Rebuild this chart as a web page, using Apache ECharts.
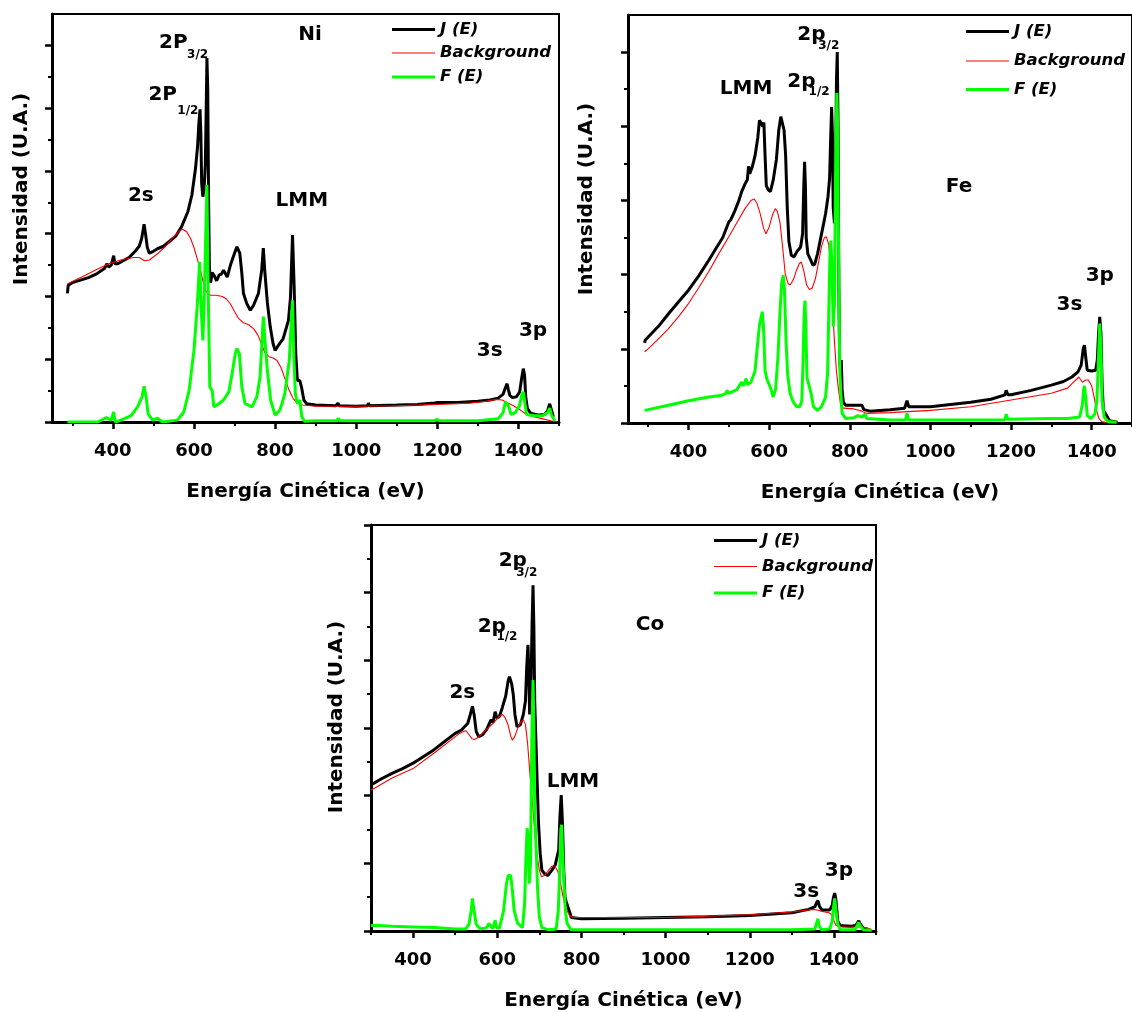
<!DOCTYPE html>
<html>
<head>
<meta charset="utf-8">
<script src="https://cdn.jsdelivr.net/npm/echarts@6/dist/echarts.min.js"></script>
<style>html,body{margin:0;padding:0;background:#fff}#c{width:1132px;height:1012px}</style>
</head>
<body>
<div id="c"></div>
<script>
// ---------------- DATA ----------------
const seriesNames = ['J (E)', 'Background', 'F (E)'];
const xMajor = [400, 600, 800, 1000, 1200, 1400];
const xMinor = [300, 500, 700, 900, 1100, 1300, 1500];

// Ni panel
const niJ = [[288,2.05],[290,2.18],[300,2.22],[320,2.26],[340,2.30],[360,2.36],[380,2.45],[385,2.52],[390,2.47],[396,2.50],[402,2.65],[405,2.52],[412,2.52],[420,2.55],[440,2.62],[455,2.72],[465,2.80],[471,2.92],[477,3.15],[481,2.98],[485,2.78],[490,2.69],[500,2.72],[510,2.76],[525,2.80],[540,2.88],[555,2.96],[570,3.12],[585,3.35],[595,3.62],[600,3.86],[604,4.05],[609,4.40],[612,4.75],[615,4.98],[617,4.60],[619,3.80],[622,3.59],[625,3.72],[628,4.10],[630,4.90],[632,5.80],[634,5.30],[636,3.60],[638,2.47],[641,2.22],[645,2.38],[650,2.33],[656,2.25],[662,2.34],[668,2.36],[673,2.42],[682,2.31],[690,2.50],[700,2.69],[706,2.79],[713,2.69],[718,2.37],[722,2.05],[730,1.89],[739,1.78],[747,1.86],[759,2.05],[767,2.42],[771,2.77],[775,2.37],[781,1.90],[788,1.52],[795,1.25],[800,1.14],[808,1.22],[820,1.33],[833,1.62],[838,1.99],[843,2.98],[847,2.16],[851,1.09],[855,0.66],[861,0.66],[865,0.56],[871,0.35],[878,0.29],[900,0.27],[950,0.26],[955,0.30],[958,0.26],[1000,0.25],[1028,0.26],[1030,0.30],[1033,0.26],[1100,0.27],[1150,0.28],[1185,0.30],[1188,0.33],[1192,0.30],[1200,0.31],[1250,0.31],[1300,0.33],[1330,0.35],[1350,0.38],[1362,0.44],[1368,0.55],[1372,0.61],[1375,0.52],[1379,0.42],[1385,0.39],[1395,0.40],[1403,0.48],[1408,0.70],[1412,0.85],[1415,0.75],[1418,0.40],[1422,0.22],[1430,0.14],[1450,0.11],[1465,0.12],[1472,0.18],[1477,0.29],[1481,0.20],[1486,0.08]];
const niBg = [[288,2.20],[300,2.24],[330,2.33],[360,2.43],[390,2.52],[420,2.58],[450,2.62],[465,2.62],[478,2.57],[490,2.58],[510,2.68],[530,2.80],[550,2.95],[565,3.05],[572,3.07],[582,3.03],[592,2.92],[600,2.78],[608,2.60],[615,2.45],[622,2.25],[630,2.08],[640,2.02],[655,2.02],[670,2.00],[680,1.96],[690,1.88],[700,1.76],[710,1.65],[722,1.58],[735,1.55],[748,1.48],[758,1.38],[766,1.25],[775,1.10],[785,1.04],[795,1.02],[805,0.98],[815,0.86],[825,0.68],[835,0.50],[845,0.37],[855,0.30],[868,0.27],[900,0.25],[1000,0.25],[1100,0.26],[1200,0.28],[1280,0.30],[1320,0.33],[1345,0.36],[1360,0.35],[1375,0.30],[1390,0.25],[1405,0.19],[1420,0.12],[1440,0.08],[1460,0.05],[1480,0.02],[1497,0.00]];
const niF = [[288,0.00],[363,0.00],[384,0.07],[389,0.05],[396,0.03],[402,0.16],[406,0.00],[420,0.03],[445,0.10],[461,0.24],[472,0.40],[477,0.57],[482,0.40],[487,0.13],[498,0.03],[510,0.06],[522,0.00],[559,0.03],[575,0.16],[588,0.50],[600,1.14],[608,1.84],[614,2.55],[618,1.78],[622,1.30],[625,1.90],[628,2.69],[632,3.78],[635,2.15],[639,0.56],[645,0.50],[649,0.24],[661,0.29],[673,0.35],[686,0.48],[694,0.77],[702,1.09],[706,1.17],[712,1.09],[718,0.56],[726,0.29],[735,0.27],[743,0.24],[755,0.40],[763,0.72],[771,1.68],[775,1.30],[781,0.82],[789,0.35],[800,0.11],[812,0.19],[824,0.45],[835,0.98],[840,1.62],[843,1.94],[846,1.09],[850,0.45],[855,0.29],[861,0.35],[866,0.08],[873,0.01],[900,0.02],[953,0.02],[956,0.06],[960,0.02],[1028,0.02],[1031,0.05],[1035,0.02],[1100,0.02],[1185,0.02],[1188,0.05],[1192,0.02],[1200,0.04],[1205,0.02],[1300,0.02],[1350,0.05],[1362,0.15],[1368,0.32],[1372,0.35],[1376,0.25],[1382,0.12],[1392,0.15],[1402,0.25],[1408,0.42],[1412,0.48],[1416,0.30],[1420,0.12],[1440,0.10],[1460,0.10],[1472,0.15],[1477,0.22],[1482,0.10],[1490,0.02]];
const niNotes = [['2P',549,6.04],['2P',523,5.21],['2s',469,3.61],['LMM',866,3.53],['Ni',886,6.17],['3s',1329,1.14],['3p',1436,1.46]];
const niSubs = [['3/2',609,5.85],['1/2',585,4.96]];

// Fe panel
const feJ = [[291,1.08],[293,1.12],[300,1.16],[325,1.30],[350,1.47],[375,1.63],[400,1.79],[425,1.98],[450,2.19],[470,2.37],[485,2.50],[500,2.71],[505,2.74],[515,2.86],[525,3.00],[532,3.12],[540,3.22],[546,3.28],[549,3.46],[552,3.36],[558,3.45],[565,3.60],[572,3.85],[576,4.08],[580,4.10],[584,4.00],[587,4.05],[590,3.60],[593,3.20],[598,3.14],[603,3.12],[610,3.27],[618,3.55],[624,3.95],[629,4.13],[633,4.15],[637,3.95],[641,3.60],[645,2.90],[649,2.45],[655,2.26],[662,2.24],[670,2.32],[678,2.37],[683,2.55],[686,3.20],[688,3.52],[690,3.20],[692,2.50],[696,2.28],[700,2.30],[703,2.20],[708,2.13],[713,2.14],[720,2.28],[730,2.55],[740,2.82],[746,3.05],[750,3.30],[753,3.90],[755,4.26],[757,3.90],[759,2.90],[762,2.69],[765,3.50],[767,4.60],[769,5.00],[771,4.00],[773,1.80],[775,0.80],[777,0.75],[779,0.85],[781,0.45],[784,0.28],[790,0.24],[810,0.24],[830,0.24],[835,0.18],[850,0.16],[900,0.18],[936,0.20],[942,0.30],[946,0.22],[1000,0.22],[1050,0.25],[1100,0.28],[1150,0.32],[1185,0.38],[1188,0.44],[1192,0.38],[1200,0.38],[1250,0.44],[1300,0.51],[1330,0.56],[1351,0.62],[1366,0.69],[1374,0.78],[1379,1.00],[1382,1.05],[1385,0.90],[1389,0.71],[1400,0.70],[1410,0.71],[1414,0.85],[1417,1.20],[1420,1.43],[1423,1.20],[1426,0.50],[1429,0.17],[1434,0.13],[1444,0.03],[1464,0.01]];
const feBg = [[291,0.96],[300,1.00],[325,1.13],[350,1.27],[375,1.43],[400,1.61],[425,1.82],[450,2.04],[475,2.28],[500,2.51],[520,2.70],[540,2.89],[555,3.00],[563,3.02],[570,2.96],[578,2.82],[586,2.63],[592,2.55],[600,2.64],[608,2.80],[615,2.89],[620,2.86],[627,2.70],[633,2.40],[640,2.01],[647,1.88],[652,1.86],[660,1.93],[668,2.06],[675,2.15],[680,2.17],[686,2.05],[693,1.86],[700,1.80],[707,1.82],[715,1.95],[722,2.15],[730,2.38],[737,2.50],[742,2.51],[748,2.40],[753,2.10],[758,1.50],[762,1.10],[767,0.70],[772,0.45],[778,0.22],[785,0.20],[810,0.19],[830,0.16],[840,0.13],[900,0.14],[1000,0.17],[1100,0.22],[1200,0.31],[1300,0.40],[1340,0.47],[1355,0.55],[1368,0.62],[1377,0.55],[1385,0.58],[1392,0.58],[1400,0.50],[1406,0.35],[1412,0.17],[1418,0.06],[1425,0.02],[1440,0.00],[1460,0.00]];
const feF = [[291,0.17],[300,0.18],[350,0.24],[400,0.30],[450,0.35],[480,0.37],[493,0.40],[496,0.44],[500,0.40],[520,0.45],[528,0.52],[532,0.55],[536,0.50],[540,0.55],[543,0.60],[546,0.52],[555,0.55],[565,0.70],[572,1.10],[576,1.32],[579,1.30],[583,1.50],[586,1.30],[590,0.70],[595,0.58],[600,0.52],[605,0.45],[610,0.35],[616,0.45],[622,0.90],[627,1.50],[631,1.88],[635,1.99],[638,1.80],[642,1.10],[646,0.65],[652,0.40],[660,0.28],[668,0.22],[676,0.22],[681,0.30],[684,0.80],[687,1.50],[689,1.65],[691,1.30],[694,0.60],[697,0.55],[700,0.53],[704,0.40],[710,0.22],[720,0.17],[730,0.22],[740,0.35],[745,0.67],[748,1.50],[751,2.30],[753,2.46],[756,2.10],[759,1.30],[762,1.60],[765,3.50],[768,4.45],[770,4.00],[772,2.50],[775,0.76],[778,0.40],[781,0.13],[790,0.06],[810,0.07],[820,0.10],[830,0.08],[838,0.12],[842,0.06],[900,0.04],[938,0.04],[942,0.13],[946,0.04],[1100,0.04],[1185,0.04],[1188,0.12],[1192,0.05],[1300,0.06],[1340,0.06],[1370,0.08],[1377,0.25],[1380,0.45],[1382,0.50],[1385,0.35],[1389,0.10],[1398,0.06],[1408,0.12],[1413,0.30],[1417,0.90],[1420,1.34],[1423,1.00],[1426,0.30],[1431,0.08],[1440,0.02],[1462,0.01]];
const feNotes = [['LMM',543,4.51],['2p',680,4.60],['2p',705,5.23],['Fe',1071,3.18],['3s',1345,1.59],['3p',1420,1.99]];
const feSubs = [['1/2',724,4.46],['3/2',748,5.08]];

// Co panel
const coJ = [[300,2.16],[325,2.25],[350,2.33],[375,2.40],[400,2.48],[425,2.58],[450,2.68],[475,2.80],[500,2.92],[515,2.97],[530,3.07],[536,3.20],[541,3.32],[545,3.20],[550,2.95],[556,2.87],[565,2.90],[575,2.98],[585,3.12],[590,3.08],[595,3.24],[599,3.15],[605,3.17],[612,3.30],[620,3.47],[626,3.70],[629,3.76],[634,3.66],[638,3.50],[642,3.20],[647,3.02],[655,3.05],[662,3.20],[667,3.40],[670,3.90],[673,4.23],[675,3.80],[677,3.20],[680,3.60],[683,4.60],[685,5.11],[687,4.50],[689,3.40],[692,2.80],[695,2.18],[698,1.60],[702,1.15],[706,0.90],[712,0.85],[720,0.82],[730,0.90],[738,0.98],[742,1.00],[746,1.20],[749,1.70],[752,2.01],[755,1.60],[758,0.90],[761,0.50],[764,0.43],[768,0.42],[771,0.30],[776,0.20],[800,0.18],[900,0.19],[1000,0.20],[1100,0.21],[1200,0.23],[1300,0.27],[1340,0.32],[1355,0.36],[1359,0.42],[1362,0.45],[1366,0.36],[1372,0.31],[1390,0.31],[1396,0.38],[1399,0.50],[1402,0.56],[1405,0.45],[1409,0.15],[1415,0.08],[1440,0.07],[1452,0.08],[1456,0.12],[1459,0.15],[1463,0.10],[1470,0.04],[1485,0.02]];
const coBg = [[300,2.08],[350,2.26],[400,2.40],[450,2.63],[490,2.82],[510,2.92],[520,2.95],[526,2.96],[533,2.90],[540,2.84],[546,2.83],[555,2.86],[570,2.95],[590,3.07],[605,3.17],[612,3.20],[618,3.16],[625,3.06],[632,2.88],[636,2.82],[642,2.88],[650,3.02],[657,3.10],[662,3.12],[667,3.05],[672,2.78],[678,2.30],[685,1.79],[690,1.40],[695,1.10],[700,0.90],[705,0.80],[712,0.82],[720,0.88],[730,0.96],[737,0.96],[744,0.88],[750,0.72],[755,0.55],[760,0.40],[765,0.31],[772,0.23],[780,0.20],[900,0.20],[1000,0.20],[1100,0.22],[1200,0.24],[1300,0.28],[1350,0.32],[1360,0.31],[1372,0.29],[1388,0.27],[1395,0.24],[1400,0.15],[1405,0.08],[1420,0.06],[1470,0.06],[1490,0.02]];
const coF = [[300,0.08],[320,0.08],[350,0.07],[400,0.06],[450,0.05],[500,0.03],[525,0.03],[533,0.10],[538,0.30],[541,0.48],[545,0.30],[550,0.10],[560,0.03],[575,0.05],[580,0.11],[584,0.12],[589,0.04],[592,0.08],[595,0.16],[598,0.05],[605,0.04],[615,0.30],[622,0.70],[626,0.82],[632,0.82],[636,0.60],[640,0.31],[648,0.12],[660,0.05],[665,0.40],[668,1.05],[671,1.52],[673,1.40],[676,0.70],[679,1.00],[682,2.80],[685,3.71],[687,3.00],[689,1.80],[692,1.29],[696,0.60],[700,0.21],[706,0.05],[720,0.02],[740,0.03],[745,0.30],[748,0.80],[751,1.50],[753,1.57],[755,1.20],[758,0.80],[762,0.30],[766,0.11],[775,0.02],[1300,0.02],[1355,0.03],[1359,0.12],[1362,0.18],[1365,0.08],[1370,0.02],[1390,0.03],[1396,0.15],[1399,0.35],[1402,0.48],[1405,0.30],[1409,0.10],[1415,0.02],[1450,0.02],[1455,0.08],[1459,0.13],[1463,0.07],[1470,0.02],[1490,0.01]];
const coNotes = [['2s',517,3.52],['2p',587,4.50],['2p',637,5.47],['Co',963,4.53],['LMM',780,2.21],['3s',1334,0.58],['3p',1412,0.89]];
const coSubs = [['1/2',623,4.34],['3/2',670,5.29]];

// ---------------- CHART ----------------
const FONT = '"DejaVu Sans", sans-serif';
const seriesColors = ['#000000', '#ff0000', '#00ff00'];
const seriesWidths = [3, 1.1, 3];
const panels = [
  {J: niJ, B: niBg, F: niF, notes: niNotes, subs: niSubs, xmin: 250, xmax: 1500, ymax: 6.5,
   grid: {left: 52, top: 14, width: 507, height: 408},
   legend: {x: 392, rows: [29.5, 53, 77]}, yname: [22, 189]},
  {J: feJ, B: feBg, F: feF, notes: feNotes, subs: feSubs, xmin: 250, xmax: 1500, ymax: 5.5,
   grid: {left: 628, top: 15, width: 507, height: 408},
   legend: {x: 966, rows: [31.5, 61, 89.5]}, yname: [587, 199]},
  {J: coJ, B: coBg, F: coF, notes: coNotes, subs: coSubs, xmin: 300, xmax: 1500, ymax: 6,
   grid: {left: 371, top: 525, width: 505, height: 406},
   legend: {x: 714, rows: [540.5, 566.5, 593]}, yname: [337, 717]}
];

const grid = [], xAxis = [], yAxis = [], series = [], graphic = [];
panels.forEach((p, i) => {
  grid.push(Object.assign({show: true, borderColor: '#000', borderWidth: 2, containLabel: false}, p.grid));
  const ax = 2 * i;
  const yMajor = [], yMinor = [];
  for (let v = 0; v <= p.ymax + 1e-9; v += 1) yMajor.push(v);
  for (let v = 0.5; v < p.ymax - 1e-9; v += 1) yMinor.push(v);
  const xMin = xMinor.filter(v => v >= p.xmin && v <= p.xmax);
  xAxis.push({
    type: 'value', gridIndex: i, min: p.xmin, max: p.xmax, position: 'bottom',
    axisLine: {show: true, onZero: false, lineStyle: {color: '#000', width: 3}},
    axisTick: {show: true, customValues: xMajor, length: 7, lineStyle: {color: '#000', width: 2.5}},
    axisLabel: {show: true, customValues: xMajor, formatter: v => String(v), margin: 20, fontSize: 18, fontWeight: 'bold', fontFamily: FONT, color: '#000'},
    splitLine: {show: false},
    name: 'Energía Cinética (eV)', nameLocation: 'middle', nameGap: 60,
    nameTextStyle: {fontSize: 20, fontWeight: 'bold', fontFamily: FONT, color: '#000'}
  });
  xAxis.push({
    type: 'value', gridIndex: i, min: p.xmin, max: p.xmax, position: 'bottom',
    axisLine: {show: false},
    axisTick: {show: true, customValues: xMin, length: 4, lineStyle: {color: '#000', width: 2}},
    axisLabel: {show: false}, splitLine: {show: false}
  });
  yAxis.push({
    type: 'value', gridIndex: i, min: 0, max: p.ymax, position: 'left',
    axisLine: {show: true, onZero: false, lineStyle: {color: '#000', width: 3}},
    axisTick: {show: true, customValues: yMajor, length: 7, lineStyle: {color: '#000', width: 2.5}},
    axisLabel: {show: false}, splitLine: {show: false}
  });
  yAxis.push({
    type: 'value', gridIndex: i, min: 0, max: p.ymax, position: 'left',
    axisLine: {show: false},
    axisTick: {show: true, customValues: yMinor, length: 4, lineStyle: {color: '#000', width: 2}},
    axisLabel: {show: false}, splitLine: {show: false}
  });
  const base = {type: 'line', xAxisIndex: ax, yAxisIndex: ax, symbol: 'none', showSymbol: false, silent: true, animation: false};
  [p.J, p.B, p.F].forEach((d, k) => {
    series.push(Object.assign({}, base, {name: seriesNames[k], data: d,
      lineStyle: {color: seriesColors[k], width: seriesWidths[k]}, itemStyle: {color: seriesColors[k]}, z: 3 + k}));
  });
  const noteLabel = {show: true, position: 'inside', formatter: '{b}', fontWeight: 'bold', fontFamily: FONT, color: '#000', textBorderWidth: 0};
  series.push({
    type: 'scatter', xAxisIndex: ax, yAxisIndex: ax, silent: true, animation: false, clip: false,
    symbolSize: 0, itemStyle: {color: 'transparent', opacity: 1}, z: 10,
    data: p.notes.map(n => ({name: n[0], value: [n[1], n[2]]})),
    label: Object.assign({fontSize: 20}, noteLabel)
  });
  series.push({
    type: 'scatter', xAxisIndex: ax, yAxisIndex: ax, silent: true, animation: false, clip: false,
    symbolSize: 0, itemStyle: {color: 'transparent', opacity: 1}, z: 10,
    data: p.subs.map(n => ({name: n[0], value: [n[1], n[2]]})),
    label: Object.assign({fontSize: 12}, noteLabel)
  });
  // legend (drawn as graphic line + text)
  seriesNames.forEach((n, k) => {
    const y = p.legend.rows[k];
    graphic.push({
      type: 'line', silent: true, z: 20,
      shape: {x1: p.legend.x, y1: y, x2: p.legend.x + 43, y2: y},
      style: {stroke: seriesColors[k], lineWidth: seriesWidths[k]}
    });
    graphic.push({
      type: 'text', silent: true, z: 20, x: p.legend.x + 48, y: y,
      style: {text: n, fontSize: 16.5, fontWeight: 'bold', fontStyle: 'italic', fontFamily: FONT, fill: '#000', align: 'left', verticalAlign: 'middle'}
    });
  });
  graphic.push({
    type: 'text', x: p.yname[0], y: p.yname[1], rotation: Math.PI / 2, silent: true,
    style: {text: 'Intensidad (U.A.)', fontSize: 20, fontWeight: 'bold', fontFamily: FONT, fill: '#000', align: 'center', verticalAlign: 'middle'}
  });
});

const chart = echarts.init(document.getElementById('c'), null, {renderer: 'canvas'});
chart.setOption({
  backgroundColor: '#fff',
  animation: false,
  grid, xAxis, yAxis, series, graphic
});
</script>
</body>
</html>
